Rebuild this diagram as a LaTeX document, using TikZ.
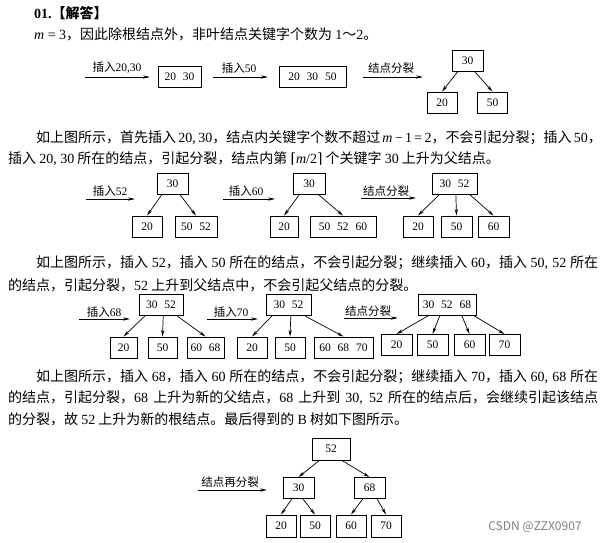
\documentclass[tikz,border=0pt]{standalone}
\usepackage{fontspec}
\setmainfont{Liberation Serif}
\newfontfamily\cjk{Noto Sans CJK SC}
\newfontfamily\djv{DejaVu Serif}
\usetikzlibrary{arrows.meta,calc}
\XeTeXlinebreaklocale "zh"
\XeTeXlinebreakskip=0pt plus 2pt minus 0.6pt
\newcommand\lt[1]{{\rmfamily#1}}
\newcommand\ceilL{{\djv ⌈}}
\newcommand\ceilR{{\djv ⌉}}
\newcommand\g{\hspace{7pt}}
\newcommand\full[2]{\makebox[#1][s]{#2}}
\newcommand\edge[3]{\draw[edge] ($(#1.south west)!#2!(#1.south east)$) -- (#3.north);}
\begin{document}
\begin{tikzpicture}[x=1pt,y=-1pt,
  txt/.style={anchor=west,inner sep=0pt,font=\cjk\fontsize{14}{16}\selectfont},
  lbl/.style={inner sep=0pt,font=\cjk\fontsize{11.5}{13}\selectfont},
  key/.style={draw,line width=0.9pt,inner sep=0pt,minimum height=21pt,font=\rmfamily\fontsize{11.5}{13}\selectfont},
  edge/.style={line width=0.7pt,-{Stealth[length=6.5pt,width=3.2pt]}},
  harrow/.style={line width=0.7pt,-{Stealth[length=7pt,width=3.2pt]}}]
\fill[white] (0,0) rectangle (603,542);
\useasboundingbox (0,0) rectangle (603,542);

% ---- heading text
\node[txt,font=\cjk\bfseries\fontsize{14}{16}\selectfont] (h) at (34,13) {\lt{\bfseries 01.}【解答】};
\node[txt] (s1) at (34,34) {\lt{\textit{m} = 3}，因此除根结点外，非叶结点关键字个数为 \lt{1}～\lt{2}。};

% ---- row 1
\coordinate (a1s) at (85,77); \coordinate (a1e) at (150,77);
\draw[harrow] (a1s) -- (a1e);
\node[lbl] (l1) at (117,68) {插入\lt{20,30}};
\node[key,minimum width=43pt] (b1) at (179.5,76.5) {20\g 30};
\coordinate (a2s) at (213,77); \coordinate (a2e) at (268,77);
\draw[harrow] (a2s) -- (a2e);
\node[lbl] (l2) at (239,68) {插入\lt{50}};
\node[key,minimum width=67pt] (b2) at (312.5,76.5) {20\g 30\g 50};
\coordinate (a3s) at (363,77); \coordinate (a3e) at (423,77);
\draw[harrow] (a3s) -- (a3e);
\node[lbl] (l3) at (391,68) {结点分裂};
\node[key,minimum width=31pt] (t1r) at (467.5,60.5) {30};
\node[key,minimum width=30pt] (t1a) at (442,102.5) {20};
\node[key,minimum width=30pt] (t1b) at (492.5,102.5) {50};
\edge{t1r}{0.2}{t1a}
\edge{t1r}{0.72}{t1b}

% ---- paragraph 1
\node[txt] (p1a) at (36,138) {\full{562pt}{如上图所示，首先插入 \lt{20, 30}，结点内关键字个数不超过 \lt{\textit{m} − 1 = 2}，不会引起分裂；插入 \lt{50}，}};
\node[txt] (p1b) at (8,159) {插入 \lt{20, 30} 所在的结点，引起分裂，结点内第 \ceilL\lt{\textit{m}/2}\ceilR{} 个关键字 \lt{30} 上升为父结点。};

% ---- row 2
\coordinate (a4s) at (86,199); \coordinate (a4e) at (135,199);
\draw[harrow] (a4s) -- (a4e);
\node[lbl] (l4) at (110,191) {插入\lt{52}};
\node[key,minimum width=31pt] (r2aR) at (172.5,184) {30};
\node[key,minimum width=30pt] (r2a1) at (147,226.5) {20};
\node[key,minimum width=42pt] (r2a2) at (196,226.5) {50\g 52};
\edge{r2aR}{0.16}{r2a1}
\edge{r2aR}{0.74}{r2a2}

\coordinate (a5s) at (223,199); \coordinate (a5e) at (275,199);
\draw[harrow] (a5s) -- (a5e);
\node[lbl] (l5) at (246,191) {插入\lt{60}};
\node[key,minimum width=32pt] (r2bR) at (309,184) {30};
\node[key,minimum width=28pt] (r2b1) at (284,226.5) {20};
\node[key,minimum width=66pt] (r2b2) at (343,226.5) {50\g 52\g 60};
\edge{r2bR}{0.2}{r2b1}
\edge{r2bR}{0.8}{r2b2}

\coordinate (a6s) at (361,198); \coordinate (a6e) at (416,198);
\draw[harrow] (a6s) -- (a6e);
\node[lbl] (l6) at (386,191) {结点分裂};
\node[key,minimum width=45pt] (r2cR) at (454.5,184) {30\g 52};
\node[key,minimum width=30pt] (r2c1) at (418,226.5) {20};
\node[key,minimum width=31pt] (r2c2) at (456.5,226.5) {50};
\node[key,minimum width=31pt] (r2c3) at (493.5,226.5) {60};
\edge{r2cR}{0.16}{r2c1}
\edge{r2cR}{0.53}{r2c2}
\edge{r2cR}{0.84}{r2c3}

% ---- paragraph 2
\node[txt] (p2a) at (36,263) {\full{562pt}{如上图所示，插入 \lt{52}，插入 \lt{50} 所在的结点，不会引起分裂；继续插入 \lt{60}，插入 \lt{50, 52} 所在}};
\node[txt] (p2b) at (8,285) {的结点，引起分裂，\lt{52} 上升到父结点中，不会引起父结点的分裂。};

% ---- row 3
\coordinate (a7s) at (79,319); \coordinate (a7e) at (130,319);
\draw[harrow] (a7s) -- (a7e);
\node[lbl] (l7) at (104,312) {插入\lt{68}};
\node[key,minimum width=44pt] (r3aR) at (161,305) {30\g 52};
\node[key,minimum width=27pt] (r3a1) at (123.5,347.5) {20};
\node[key,minimum width=29pt] (r3a2) at (162.5,347.5) {50};
\node[key,minimum width=37pt] (r3a3) at (205.5,347.5) {60\g 68};
\edge{r3aR}{0.14}{r3a1}
\edge{r3aR}{0.55}{r3a2}
\edge{r3aR}{0.86}{r3a3}

\coordinate (a8s) at (207,319); \coordinate (a8e) at (258,319);
\draw[harrow] (a8s) -- (a8e);
\node[lbl] (l8) at (231,312) {插入\lt{70}};
\node[key,minimum width=45pt] (r3bR) at (288.5,305) {30\g 52};
\node[key,minimum width=30pt] (r3b1) at (252,347.5) {20};
\node[key,minimum width=30pt] (r3b2) at (290,347.5) {50};
\node[key,minimum width=59pt] (r3b3) at (343.5,347.5) {60\g 68\g 70};
\edge{r3bR}{0.14}{r3b1}
\edge{r3bR}{0.55}{r3b2}
\edge{r3bR}{0.86}{r3b3}

\coordinate (a9s) at (344,318); \coordinate (a9e) at (398,318);
\draw[harrow] (a9s) -- (a9e);
\node[lbl] (l9) at (368,311) {结点分裂};
\node[key,minimum width=58pt] (r3cR) at (447,304.5) {30\g 52\g 68};
\node[key,minimum width=31pt] (r3c1) at (396.5,345) {20};
\node[key,minimum width=31pt] (r3c2) at (432.5,345) {50};
\node[key,minimum width=31pt] (r3c3) at (469.5,345) {60};
\node[key,minimum width=31pt] (r3c4) at (504.5,345) {70};
\edge{r3cR}{0.19}{r3c1}
\edge{r3cR}{0.38}{r3c2}
\edge{r3cR}{0.75}{r3c3}
\edge{r3cR}{0.95}{r3c4}

% ---- paragraph 3
\node[txt] (p3a) at (36,377) {\full{562pt}{如上图所示，插入 \lt{68}，插入 \lt{60} 所在的结点，不会引起分裂；继续插入 \lt{70}，插入 \lt{60, 68} 所在}};
\node[txt] (p3b) at (8,398) {\full{590pt}{的结点，引起分裂，\lt{68} 上升为新的父结点，\lt{68} 上升到 \lt{30, 52} 所在的结点后，会继续引起该结点}};
\node[txt] (p3c) at (8,419) {的分裂，故 \lt{52} 上升为新的根结点。最后得到的 \lt{B} 树如下图所示。};

% ---- final tree
\coordinate (a10s) at (198,490); \coordinate (a10e) at (267,490);
\draw[harrow] (a10s) -- (a10e);
\node[lbl] (l10) at (230,482) {结点再分裂};
\node[key,minimum width=38pt,minimum height=22pt] (fR) at (331,449) {52};
\node[key,minimum width=31pt] (fm1) at (298.5,488) {30};
\node[key,minimum width=31pt] (fm2) at (369.5,488) {68};
\node[key,minimum width=30pt,minimum height=22pt] (fl1) at (281,526) {20};
\node[key,minimum width=30pt,minimum height=22pt] (fl2) at (315,526) {50};
\node[key,minimum width=30pt,minimum height=22pt] (fl3) at (351,526) {60};
\node[key,minimum width=30pt,minimum height=22pt] (fl4) at (386,526) {70};
\edge{fR}{0.2}{fm1}
\edge{fR}{0.78}{fm2}
\edge{fm1}{0.29}{fl1}
\edge{fm1}{0.64}{fl2}
\edge{fm2}{0.29}{fl3}
\edge{fm2}{0.74}{fl4}

% ---- watermark
\node[font=\cjk\fontsize{12}{14}\selectfont,text=gray,inner sep=0pt] (wm) at (535,527) {CSDN @ZZX0907};
\end{tikzpicture}
\end{document}
